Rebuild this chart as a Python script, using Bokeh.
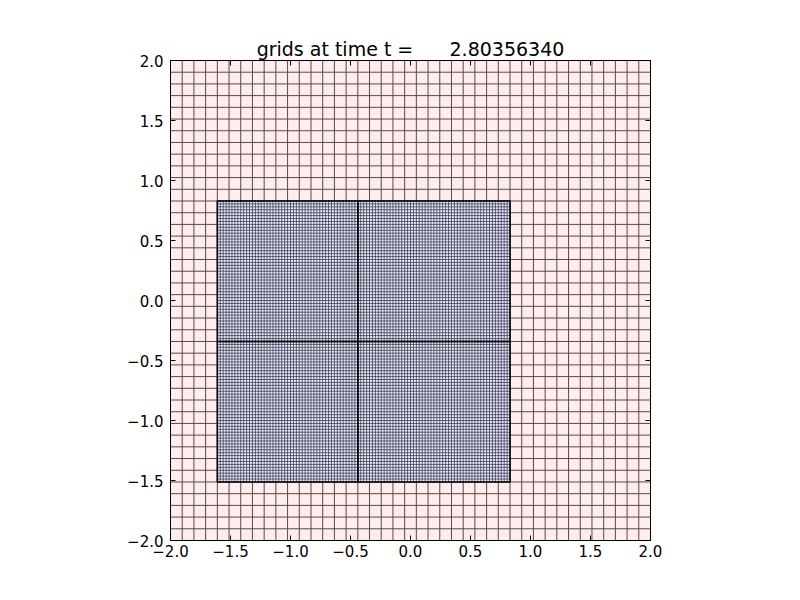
import numpy as np
from bokeh.plotting import figure
from bokeh.models import Range1d, LinearAxis, FixedTicker, CustomJSTickFormatter
from bokeh.embed import file_html
from bokeh.resources import INLINE

# ---------------- data ----------------
title_text = "grids at time t =\u00a0\u00a0\u00a0\u00a0\u00a0\u00a02.80356340"
tick_values = [-2.0, -1.5, -1.0, -0.5, 0.0, 0.5, 1.0, 1.5, 2.0]

# AMR patches (level 1 = coarse base grid, level 2 = refined patches)
patch_level = [1, 2, 2, 2, 2]
patch_x_lower = [-2.0, -1.609756, -0.439024, -1.609756, -0.439024]
patch_x_upper = [2.0, -0.439024, 0.829268, -0.439024, 0.829268]
patch_y_lower = [-2.0, -1.512195, -1.512195, -0.341463, -0.341463]
patch_y_upper = [2.0, -0.341463, -0.341463, 0.829268, 0.829268]
patch_nx = [41, 48, 52, 48, 52]
patch_ny = [41, 48, 48, 48, 48]

level_fill = {1: "#ffeded", 2: "#eceff7"}
level_line = {1: "#584a4a", 2: "#3a3a58"}
level_width = {1: 1.0, 2: 0.8}

FONT = "DejaVu Sans"

p = figure(width=790, height=590, output_backend="svg", toolbar_location=None,
           x_range=Range1d(-2, 2), y_range=Range1d(-2, 2),
           min_border_left=170, min_border_right=140,
           min_border_top=60, min_border_bottom=50,
           title=title_text)
p.grid.visible = False
p.background_fill_color = "white"
p.outline_line_color = "black"
p.outline_line_width = 1

for lev in (1, 2):
    for i in range(len(patch_level)):
        if patch_level[i] != lev:
            continue
        xl, xu = patch_x_lower[i], patch_x_upper[i]
        yl, yu = patch_y_lower[i], patch_y_upper[i]
        p.quad(left=[xl], right=[xu], bottom=[yl], top=[yu],
               fill_color=level_fill[lev], line_color=None)
        xe = np.linspace(xl, xu, patch_nx[i] + 1)
        ye = np.linspace(yl, yu, patch_ny[i] + 1)
        p.segment(x0=xe, x1=xe, y0=np.full_like(xe, yl), y1=np.full_like(xe, yu),
                  line_color=level_line[lev], line_width=level_width[lev])
        p.segment(x0=np.full_like(ye, xl), x1=np.full_like(ye, xu), y0=ye, y1=ye,
                  line_color=level_line[lev], line_width=level_width[lev])

# patch edges for refined level
idx2 = [i for i in range(len(patch_level)) if patch_level[i] == 2]
p.quad(left=[patch_x_lower[i] for i in idx2], right=[patch_x_upper[i] for i in idx2],
       bottom=[patch_y_lower[i] for i in idx2], top=[patch_y_upper[i] for i in idx2],
       fill_color=None, line_color="black", line_width=1.5)

fmt = CustomJSTickFormatter(code="return tick.toFixed(1).replace('-', '\u2212');")
for ax in (p.xaxis[0], p.yaxis[0]):
    ax.ticker = FixedTicker(ticks=tick_values)
    ax.formatter = fmt
    ax.major_tick_in = 5
    ax.major_tick_out = 0
    ax.minor_tick_line_color = None
    ax.axis_line_color = "black"
    ax.major_tick_line_color = "black"
    ax.major_label_text_font = FONT
    ax.major_label_text_font_size = "15px"
    ax.major_label_text_color = "black"
p.xaxis.major_label_standoff = 4
p.yaxis.major_label_standoff = 7

for loc in ("above", "right"):
    ax = LinearAxis(ticker=FixedTicker(ticks=tick_values),
                    formatter=CustomJSTickFormatter(code="return '';"),
                    major_tick_in=5, major_tick_out=0,
                    minor_tick_line_color=None, axis_line_color="black",
                    major_label_text_font_size="0px", major_label_standoff=0)
    p.add_layout(ax, loc)

p.title.text_font = FONT
p.title.text_font_size = "19px"
p.title.text_font_style = "normal"
p.title.align = "center"
p.title.text_color = "black"
p.title.standoff = 2

open("out.html", "w").write(file_html(p, INLINE))
